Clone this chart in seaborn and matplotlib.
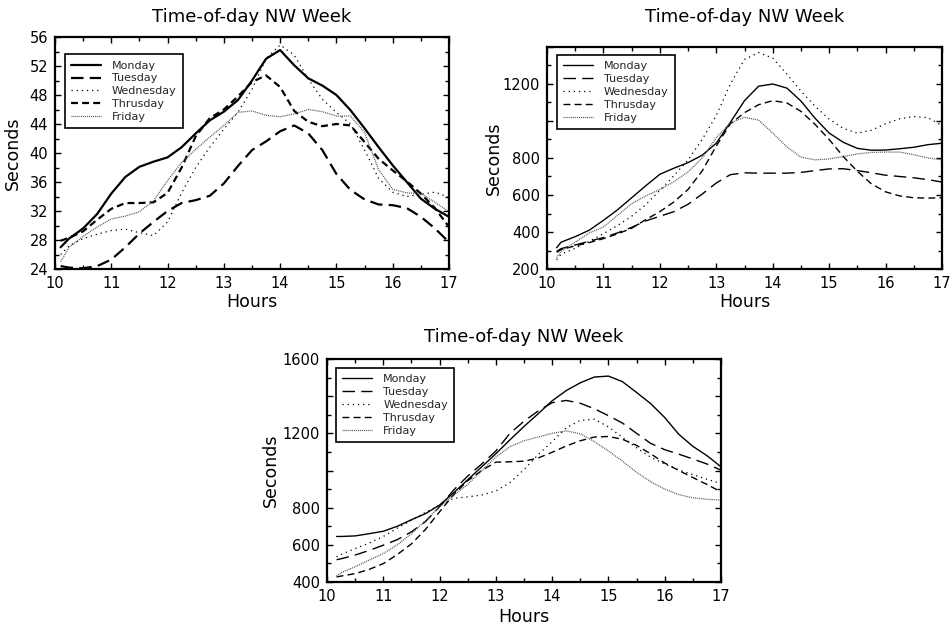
import matplotlib
matplotlib.use("Agg")
import matplotlib.pyplot as plt
import seaborn as sns
import pandas as pd
from matplotlib.ticker import MultipleLocator, FixedLocator, FixedFormatter

# ---------------- data ----------------
days = ["Monday", "Tuesday", "Wednesday", "Thrusday", "Friday"]

hours_a = [10.1, 10.25, 10.5, 10.75, 11.0, 11.25, 11.5, 11.75, 12.0, 12.25, 12.5, 12.75,
           13.0, 13.25, 13.5, 13.75, 14.0, 14.25, 14.5, 14.75, 15.0, 15.25, 15.5, 15.75,
           16.0, 16.25, 16.5, 16.75, 17.0]
hours_b = [10.17, 10.25, 10.5, 10.75, 11.0, 11.25, 11.5, 11.75, 12.0, 12.25, 12.5, 12.75,
           13.0, 13.25, 13.5, 13.75, 14.0, 14.25, 14.5, 14.75, 15.0, 15.25, 15.5, 15.75,
           16.0, 16.25, 16.5, 16.75, 17.0]

# panel 1 (top left)
mon1 = [27.0, 28.2, 29.6, 31.6, 34.4, 36.7, 38.1, 38.8, 39.4, 40.8, 42.7, 44.5, 45.7, 47.3,
        50.0, 53.0, 54.2, 52.1, 50.3, 49.3, 48.0, 45.9, 43.4, 40.8, 38.3, 36.0, 33.7, 32.3, 31.2]
tue1 = [24.4, 24.2, 24.1, 24.4, 25.3, 27.0, 28.9, 30.5, 32.0, 33.1, 33.5, 34.1, 35.8, 38.2,
        40.4, 41.6, 43.0, 43.8, 42.7, 40.4, 37.1, 34.9, 33.6, 32.9, 32.8, 32.4, 31.2, 29.6, 27.7]
wed1 = [26.0, 27.2, 28.2, 28.8, 29.3, 29.5, 29.0, 28.6, 30.5, 34.5, 38.0, 40.8, 43.3, 45.6,
        48.8, 53.0, 54.9, 53.5, 50.2, 47.4, 45.6, 44.0, 40.4, 36.5, 34.6, 34.0, 34.3, 34.6, 33.9]
thu1 = [27.9, 28.3, 29.2, 30.8, 32.3, 33.1, 33.1, 33.2, 34.5, 38.0, 42.3, 44.8, 46.0, 47.8,
        49.8, 50.7, 49.1, 45.8, 44.3, 43.7, 44.0, 43.8, 41.5, 39.2, 37.6, 36.1, 34.4, 32.4, 29.8]
fri1 = [25.0, 27.0, 28.5, 29.8, 30.9, 31.3, 31.9, 33.4, 36.2, 38.7, 40.5, 42.2, 43.8, 45.6,
        45.8, 45.2, 45.0, 45.4, 46.0, 45.7, 45.1, 45.1, 42.8, 37.7, 35.0, 34.5, 34.4, 33.2, 31.9]

# panel 2 (top right)
mon2 = [315, 345, 375, 410, 463, 520, 585, 650, 712, 745, 775, 815, 880, 993, 1110, 1188,
        1200, 1178, 1108, 1015, 935, 885, 852, 842, 843, 850, 858, 872, 880]
tue2 = [295, 310, 330, 350, 370, 395, 425, 460, 485, 510, 550, 605, 665, 710, 720, 718,
        718, 718, 722, 732, 741, 742, 732, 720, 707, 700, 693, 683, 670]
wed2 = [250, 280, 312, 350, 391, 435, 485, 548, 625, 705, 790, 900, 1030, 1200, 1333, 1370,
        1340, 1254, 1162, 1080, 1010, 960, 934, 950, 985, 1012, 1024, 1018, 975]
thu2 = [290, 305, 325, 343, 364, 390, 420, 467, 510, 563, 630, 730, 865, 985, 1045, 1088,
        1110, 1098, 1052, 982, 900, 808, 728, 660, 617, 595, 585, 583, 585]
fri2 = [262, 295, 345, 395, 427, 490, 553, 595, 630, 672, 725, 800, 910, 990, 1020, 1005,
        935, 860, 805, 790, 795, 808, 822, 830, 832, 832, 818, 800, 790]

# panel 3 (bottom)
mon3 = [645, 645, 648, 660, 673, 700, 735, 768, 814, 880, 950, 1020, 1090, 1165, 1237, 1305,
        1375, 1430, 1472, 1503, 1508, 1478, 1420, 1360, 1285, 1195, 1130, 1080, 1020]
tue3 = [520, 525, 545, 570, 598, 628, 670, 725, 805, 895, 970, 1035, 1105, 1200, 1265, 1320,
        1365, 1377, 1362, 1332, 1295, 1255, 1200, 1146, 1112, 1088, 1062, 1035, 1002]
wed3 = [535, 548, 580, 610, 645, 690, 732, 775, 814, 850, 858, 868, 890, 935, 1005, 1085,
        1155, 1230, 1270, 1276, 1235, 1178, 1122, 1072, 1035, 1003, 978, 953, 930]
thu3 = [427, 432, 445, 468, 499, 548, 605, 683, 778, 870, 945, 1000, 1045, 1047, 1050, 1067,
        1098, 1132, 1160, 1180, 1183, 1168, 1135, 1090, 1040, 1000, 962, 925, 885]
fri3 = [432, 450, 482, 518, 553, 600, 660, 730, 805, 866, 925, 1000, 1072, 1128, 1160, 1180,
        1200, 1213, 1198, 1155, 1106, 1050, 990, 940, 900, 870, 853, 845, 841]

title_text = "Time-of-day NW Week"
x_ticks = [10, 11, 12, 13, 14, 15, 16, 17]
y1_ticks = [24, 28, 32, 36, 40, 44, 48, 52, 56]
y2_ticks = [200, 400, 600, 800, 1000, 1200, 1400]
y2_labels = ["200", "400", "600", "800", "", "1200", ""]
y3_ticks = [400, 600, 800, 1000, 1200, 1400, 1600]
y3_labels = ["400", "600", "800", "", "1200", "", "1600"]

# ---------------- style ----------------
sns.set_theme(style="white")
plt.rcParams["font.family"] = ["DejaVu Sans"]
plt.rcParams["lines.scale_dashes"] = False

W, H = 953, 625
fig = plt.figure(figsize=(W / 100, H / 100), dpi=100)
fig.patch.set_facecolor("white")


def box(l, t, r, b):
    return [l / W, 1 - b / H, (r - l) / W, (b - t) / H]


styles = {
    "Monday": dict(ls="-", color="black"),
    "Tuesday": dict(ls=(0, (9, 4.5)), color="black"),
    "Wednesday": dict(ls=(0, (0.9, 2.8)), color="black"),
    "Thrusday": dict(ls=(0, (5, 3)), color="black"),
    "Friday": dict(ls=(0, (0.7, 0.7)), color="#505050"),
}


def panel(rect, hours, series, widths, ylim, yticks, ylabels, minor_y,
          title_y, ylabel_x, xlabel_y, leg_anchor):
    ax = fig.add_axes(rect)
    for day, vals, lw in zip(days, series, widths):
        df = pd.DataFrame({"Hours": hours, "Seconds": vals})
        st = styles[day]
        sns.lineplot(data=df, x="Hours", y="Seconds", ax=ax, color=st["color"],
                     linestyle=st["ls"], linewidth=lw, label=day)
    ax.set_xlim(10, 17)
    ax.set_ylim(*ylim)
    ax.xaxis.set_major_locator(FixedLocator(x_ticks))
    ax.xaxis.set_minor_locator(MultipleLocator(0.5))
    ax.yaxis.set_major_locator(FixedLocator(yticks))
    ax.yaxis.set_major_formatter(FixedFormatter(ylabels))
    ax.yaxis.set_minor_locator(MultipleLocator(minor_y))
    ax.tick_params(which="both", direction="in", top=True, right=True,
                   bottom=True, left=True, color="black", labelsize=10.5,
                   labelcolor="black")
    ax.tick_params(which="major", length=4.5, width=1.0, pad=5)
    ax.tick_params(which="minor", length=3, width=1.0)
    for sp in ax.spines.values():
        sp.set_color("black")
        sp.set_linewidth(1.6)
    ax.set_xlabel("Hours", fontsize=12.5, color="black")
    ax.set_ylabel("Seconds", fontsize=12.5, color="black")
    ax.yaxis.set_label_coords(ylabel_x, 0.5)
    ax.xaxis.set_label_coords(0.5, xlabel_y)
    ax.xaxis.label.set_va("top")
    pos = ax.get_position()
    fig.text(pos.x0 + pos.width / 2, title_y, title_text, ha="center", va="center",
             fontsize=13, color="black")
    leg = ax.legend(loc="upper left", bbox_to_anchor=leg_anchor, borderaxespad=0,
                    fontsize=8, handlelength=2.7, handletextpad=1.0,
                    labelspacing=0.26, borderpad=0.55, frameon=True, fancybox=False,
                    edgecolor="black", framealpha=1)
    leg.get_frame().set_linewidth(1.2)
    return ax


panel(box(55, 37, 449, 269), hours_a, [mon1, tue1, wed1, thu1, fri1],
      [1.6, 1.6, 0.9, 1.6, 0.9], (24, 56), y1_ticks, [str(v) for v in y1_ticks], 2,
      1 - 17 / H, -0.085, -0.105, (0.025, 0.925))

panel(box(547, 47, 942, 269), hours_b, [mon2, tue2, wed2, thu2, fri2],
      [1.0, 1.0, 0.9, 1.0, 0.9], (200, 1400), y2_ticks, y2_labels, 100,
      1 - 17 / H, -0.112, -0.11, (0.025, 0.964))

panel(box(327, 359, 721, 582), hours_b, [mon3, tue3, wed3, thu3, fri3],
      [1.0, 1.0, 0.9, 1.0, 0.9], (400, 1600), y3_ticks, y3_labels, 100,
      1 - 337 / H, -0.12, -0.115, (0.023, 0.96))

fig.savefig("out.png", dpi=100, facecolor="white")
